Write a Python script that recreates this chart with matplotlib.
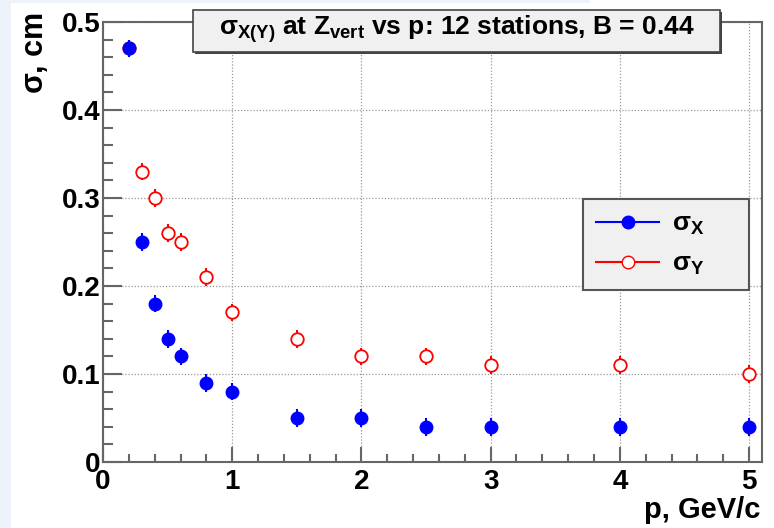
import numpy as np
import matplotlib
matplotlib.use("Agg")
import matplotlib.pyplot as plt
from matplotlib.patches import Rectangle
from matplotlib.ticker import MultipleLocator

# data
p = [0.2, 0.3, 0.4, 0.5, 0.6, 0.8, 1.0, 1.5, 2.0, 2.5, 3.0, 4.0, 5.0]
sigma_x = [0.47, 0.25, 0.18, 0.14, 0.12, 0.09, 0.08, 0.05, 0.05, 0.04, 0.04, 0.04, 0.04]
sigma_y = [0.47, 0.33, 0.30, 0.26, 0.25, 0.21, 0.17, 0.14, 0.12, 0.12, 0.11, 0.11, 0.10]
err_x = [0.01] * len(p)
err_y = [0.01] * len(p)

title = r"$\mathrm{\sigma_{X(Y)}}$ at $\mathrm{Z_{vert}}$ vs p: 12 stations, B = 0.44"
xlabel = "p, GeV/c"
ylabel = r"$\mathrm{\sigma}$, cm"

plt.rcParams['font.family'] = ['Liberation Sans', 'DejaVu Sans']
plt.rcParams['font.weight'] = 'bold'
plt.rcParams['mathtext.fontset'] = 'custom'
plt.rcParams['mathtext.rm'] = 'Liberation Sans:bold'
plt.rcParams['mathtext.it'] = 'Liberation Sans:bold'
plt.rcParams['mathtext.bf'] = 'Liberation Sans:bold'

W, H = 774, 528
fig = plt.figure(figsize=(W / 100, H / 100), dpi=100)
fig.patch.set_facecolor("white")

# light blue strips at left and top edge of the screenshot
fig.patches.append(Rectangle((0, 0), 11 / W, 1, transform=fig.transFigure,
                             facecolor="#eef3fb", edgecolor="none", zorder=0))
fig.patches.append(Rectangle((0, 1 - 3 / H), 590 / W, 3 / H, transform=fig.transFigure,
                             facecolor="#eef3fb", edgecolor="none", zorder=0))

ax = fig.add_axes([103 / W, 1 - 462 / H, 659 / W, 440 / H])
ax.set_xlim(0, 5.1)
ax.set_ylim(0, 0.5)

ax.xaxis.set_major_locator(MultipleLocator(1))
ax.xaxis.set_minor_locator(MultipleLocator(0.2))
ax.yaxis.set_major_locator(MultipleLocator(0.1))
ax.yaxis.set_minor_locator(MultipleLocator(0.02))
ax.set_yticks([0, 0.1, 0.2, 0.3, 0.4, 0.5])
ax.set_yticklabels(["0", "0.1", "0.2", "0.3", "0.4", "0.5"])

ax.grid(True, which='major', linestyle=(0, (1, 1.5)), color="#999999", linewidth=0.9)
for s in ax.spines.values():
    s.set_color("#666666")
    s.set_linewidth(1.5)

ax.tick_params(axis='both', which='both', direction='in', color="#666666", width=1.5,
               labelsize=20, top=False, right=False)
ax.tick_params(axis='y', which='major', length=14, pad=2)
ax.tick_params(axis='y', which='minor', length=7)
ax.tick_params(axis='x', which='major', length=11, pad=5)
ax.tick_params(axis='x', which='minor', length=6)

ey = ax.errorbar(p, sigma_y, yerr=err_y, fmt='o', color="red", markerfacecolor="white",
                 markeredgecolor="red", markersize=9, markeredgewidth=1.3,
                 elinewidth=1.5, capsize=0, zorder=3)
ex = ax.errorbar(p, sigma_x, yerr=err_x, fmt='o', color="blue", markersize=9,
                 elinewidth=1.5, capsize=0, zorder=4)

h_x, = ax.plot([], [], color="blue", marker='o', markersize=9, linewidth=1.5)
h_y, = ax.plot([], [], color="red", marker='o', markerfacecolor="white",
               markeredgecolor="red", markersize=9, linewidth=1.5)
leg = ax.legend([h_x, h_y], [r"$\mathrm{\sigma_X}$", r"$\mathrm{\sigma_Y}$"],
                loc='upper left', bbox_to_anchor=(0.728, 0.398, 0.252, 0.2),
                mode='expand', fontsize=19,
                handlelength=2.4, labelspacing=0.55, borderpad=0.5,
                handletextpad=0.5, fancybox=False, framealpha=1,
                borderaxespad=0)
leg.get_frame().set_facecolor("#f0f0f0")
leg.get_frame().set_edgecolor("#555555")
leg.get_frame().set_linewidth(1.5)

# title box with shadow
x0, y0, x1, y1 = 193, 10, 720, 52
fig.patches.append(Rectangle((x0 / W + 2 / W, 1 - y1 / H - 2 / H), (x1 - x0) / W, (y1 - y0) / H,
                             transform=fig.transFigure, facecolor="#444444",
                             edgecolor="none", zorder=5))
fig.patches.append(Rectangle((x0 / W, 1 - y1 / H), (x1 - x0) / W, (y1 - y0) / H,
                             transform=fig.transFigure, facecolor="#f0f0f0",
                             edgecolor="#444444", linewidth=1.2, zorder=6))
fig.text((x0 + x1) / 2 / W, 1 - (y0 + y1) / 2 / H + 2 / H, title, ha='center', va='center',
         fontsize=19, fontweight='bold', zorder=7)

fig.text(35 / W, 1 - 12 / H, ylabel, rotation=90, ha='center', va='top',
         fontsize=22, fontweight='bold')
fig.text(760 / W, 1 - 510 / H, xlabel, ha='right', va='center',
         fontsize=21, fontweight='bold')

plt.savefig("out.png", dpi=100)
